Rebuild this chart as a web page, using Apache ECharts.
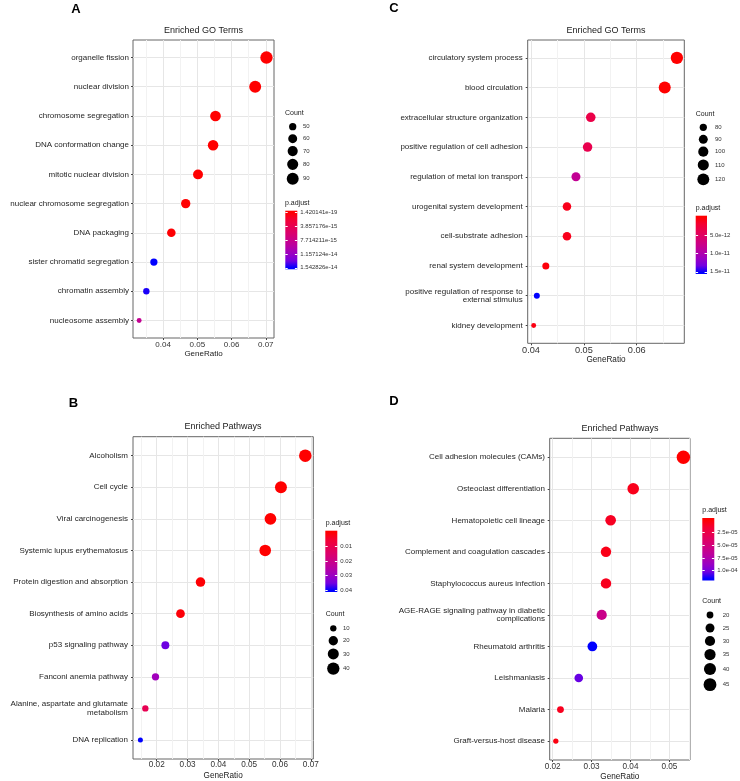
<!DOCTYPE html>
<html><head><meta charset="utf-8">
<script src="https://cdn.jsdelivr.net/npm/echarts@6/dist/echarts.min.js"></script>
<style>html,body{margin:0;padding:0;background:#fff}#c{width:740px;height:781px}</style>
</head><body><div id="c"></div><script>
// ---------- Panel A : Enriched GO Terms ----------
const catsA = ['organelle fission','nuclear division','chromosome segregation','DNA conformation change','mitotic nuclear division','nuclear chromosome segregation','DNA packaging','sister chromatid segregation','chromatin assembly','nucleosome assembly'];
const ratioA = [0.0702,0.0669,0.0553,0.0546,0.0502,0.0466,0.0424,0.0373,0.0351,0.0330];
const countA = [95,90,75,74,68,63,57,50,47,45];
const padjA = [1.420141e-19,4.5e-19,6.0e-18,8.0e-18,2.0e-17,5.0e-17,1.2e-16,1.542826e-14,1.50e-14,8.3e-15];
const xTicksA = [0.04,0.05,0.06,0.07];
const xTickLabelsA = ['0.04','0.05','0.06','0.07'];
const countBreaksA = [50,60,70,80,90];
const padjBreaksA = [1.420141e-19,3.857176e-15,7.714211e-15,1.157124e-14,1.542826e-14];
const padjLabelsA = ['1.420141e-19','3.857176e-15','7.714211e-15','1.157124e-14','1.542826e-14'];

// ---------- Panel B : Enriched Pathways ----------
const catsB = ['Alcoholism','Cell cycle','Viral carcinogenesis','Systemic lupus erythematosus','Protein digestion and absorption','Biosynthesis of amino acids','p53 signaling pathway','Fanconi anemia pathway','Alanine, aspartate and glutamate\nmetabolism','DNA replication'];
const ratioB = [0.0682,0.0603,0.0569,0.0552,0.0342,0.0277,0.0228,0.0196,0.0163,0.0147];
const countB = [42,37,35,34,21,17,14,12,10,9];
const padjB = [2e-7,1e-7,5e-6,3e-6,4e-4,8e-4,0.0355,0.0290,0.0105,0.0403];
const xTicksB = [0.02,0.03,0.04,0.05,0.06,0.07];
const xTickLabelsB = ['0.02','0.03','0.04','0.05','0.06','0.07'];
const countBreaksB = [10,20,30,40];
const padjBreaksB = [0.01,0.02,0.03,0.04];
const padjLabelsB = ['0.01','0.02','0.03','0.04'];

// ---------- Panel C : Enriched GO Terms ----------
const catsC = ['circulatory system process','blood circulation','extracellular structure organization','positive regulation of cell adhesion','regulation of metal ion transport','urogenital system development','cell-substrate adhesion','renal system development','positive regulation of response to\nexternal stimulus','kidney development'];
const ratioC = [0.0676,0.0653,0.0513,0.0507,0.0485,0.0468,0.0468,0.0428,0.0411,0.0405];
const countC = [125,121,95,94,90,87,87,79,76,75];
const padjC = [1e-15,8e-15,3.3e-12,3.7e-12,8.3e-12,1.0e-12,1.1e-12,4e-13,1.52e-11,7e-13];
const xTicksC = [0.04,0.05,0.06];
const xTickLabelsC = ['0.04','0.05','0.06'];
const countBreaksC = [80,90,100,110,120];
const padjBreaksC = [5e-12,1e-11,1.5e-11];
const padjLabelsC = ['5.0e-12','1.0e-11','1.5e-11'];

// ---------- Panel D : Enriched Pathways ----------
const catsD = ['Cell adhesion molecules (CAMs)','Osteoclast differentiation','Hematopoietic cell lineage','Complement and coagulation cascades','Staphylococcus aureus infection','AGE-RAGE signaling pathway in diabetic\ncomplications','Rheumatoid arthritis','Leishmaniasis','Malaria','Graft-versus-host disease'];
const ratioD = [0.0536,0.0407,0.0349,0.0337,0.0337,0.0326,0.0302,0.0267,0.0220,0.0208];
const countD = [49,37,32,31,31,30,28,24,20,19];
const padjD = [1e-9,8e-6,1.0e-5,7e-6,9e-6,5.8e-5,1.16e-4,1.03e-4,9e-6,5e-6];
const xTicksD = [0.02,0.03,0.04,0.05];
const xTickLabelsD = ['0.02','0.03','0.04','0.05'];
const countBreaksD = [20,25,30,35,40,45];
const padjBreaksD = [2.5e-5,5e-5,7.5e-5,1e-4];
const padjLabelsD = ['2.5e-05','5.0e-05','7.5e-05','1.0e-04'];

// ---------- styling / layout ----------
const FONT = 'Liberation Sans, Arial, Helvetica, sans-serif';
const RAMP = ['#FF0000','#F40031','#E80050','#DA006C','#C90089','#B500A5','#9A00C3','#7300E0','#0000FF'];

const panels = [
  {letter:'A', title:'Enriched GO Terms', cats:catsA, ratio:ratioA, count:countA, padj:padjA, xTicks:xTicksA, xTickLabels:xTickLabelsA, countBreaks:countBreaksA, padjBreaks:padjBreaksA, padjLabels:padjLabelsA,
   L:{grid:{left:133,top:40,width:141,height:298}, xMin:0.0312, xMax:0.0724, tickFont:8, tickMargin:3, catMargin:4, nameGap:12, nameFont:8,
      titleXY:[203.5,31], letterXY:[76,9], bar:{left:285.3,top:210.7,width:12,height:58.6}, padjTitle:[285,203.3], countTitle:[285,113], keys:{cx:292.7,cy0:126.7,lx:303}, k:0.52, keyBase:12}},
  {letter:'B', title:'Enriched Pathways', cats:catsB, ratio:ratioB, count:countB, padj:padjB, xTicks:xTicksB, xTickLabels:xTickLabelsB, countBreaks:countBreaksB, padjBreaks:padjBreaksB, padjLabels:padjLabelsB,
   L:{grid:{left:133,top:436.7,width:180.3,height:322.3}, xMin:0.0123, xMax:0.0708, tickFont:8.2, tickMargin:2, catMargin:5, nameGap:13, nameFont:8.2,
      titleXY:[223,427], letterXY:[73.5,403], bar:{left:325.3,top:530.7,width:12,height:61.3}, padjTitle:[325.7,522.7], countTitle:[325.7,614], keys:{cx:333.3,cy0:628.3,lx:343}, k:0.53, keyBase:12.5}},
  {letter:'C', title:'Enriched GO Terms', cats:catsC, ratio:ratioC, count:countC, padj:padjC, xTicks:xTicksC, xTickLabels:xTickLabelsC, countBreaks:countBreaksC, padjBreaks:padjBreaksC, padjLabels:padjLabelsC,
   L:{grid:{left:527.7,top:40,width:156.6,height:303.3}, xMin:0.03937, xMax:0.0690, tickFont:9.2, tickMargin:2.5, catMargin:5, nameGap:12.5, nameFont:8.2,
      titleXY:[606,31], letterXY:[394,8.5], bar:{left:695.7,top:215.7,width:11.3,height:58.3}, padjTitle:[695.7,208.3], countTitle:[695.7,114], keys:{cx:703.3,cy0:127.3,lx:715}, k:0.52, keyBase:12}},
  {letter:'D', title:'Enriched Pathways', cats:catsD, ratio:ratioD, count:countD, padj:padjD, xTicks:xTicksD, xTickLabels:xTickLabelsD, countBreaks:countBreaksD, padjBreaks:padjBreaksD, padjLabels:padjLabelsD,
   L:{grid:{left:549.7,top:438.3,width:140.3,height:321.7}, xMin:0.01923, xMax:0.0553, tickFont:8.2, tickMargin:3, catMargin:4.7, nameGap:13, nameFont:8.2,
      titleXY:[620,429], letterXY:[394,401.5], bar:{left:702.3,top:518,width:12,height:62.5}, padjTitle:[702.3,510], countTitle:[702.3,601.3], keys:{cx:710,cy0:615,lx:722.7}, k:0.565, keyBase:13}}
];

function nearest(arr, v){ let bi=0, bd=Infinity; arr.forEach((a,i)=>{const d=Math.abs(a-v); if(d<bd){bd=d;bi=i;}}); return bi; }
function sizeFn(k, vmin, vmax){
  return v => { const t=Math.max(0,Math.min(1,(v-vmin)/(vmax-vmin))); const s=3+5*Math.sqrt(t); return k*(2.845*s+0.94); };
}

const option = {animation:false, textStyle:{fontFamily:FONT}, grid:[], xAxis:[], yAxis:[], series:[], visualMap:[], graphic:[]};
const txt = (x,y,text,size,opts={}) => ({type:'text', x, y, silent:true, style:Object.assign({text, fontSize:size, fontFamily:FONT, fill:'#1a1a1a', align:'left', verticalAlign:'middle'}, opts)});

panels.forEach(p => {
  const L = p.L;
  const n = p.cats.length;
  const vmin = Math.min(...p.count), vmax = Math.max(...p.count);
  const sz = sizeFn(L.k, vmin, vmax);
  const pmin = Math.min(...p.padj), pmax = Math.max(...p.padj);

  // main plot
  const gi = option.grid.length;
  option.grid.push(Object.assign({show:true, borderColor:'#666666', borderWidth:1, backgroundColor:'transparent', containLabel:false, outerBoundsMode:'none'}, L.grid));
  option.xAxis.push({gridIndex:gi, type:'value', min:L.xMin, max:L.xMax, minInterval:0.01, maxInterval:0.01, position:'bottom',
    name:'GeneRatio', nameLocation:'middle', nameGap:L.nameGap, nameTextStyle:{fontSize:L.nameFont, color:'#1a1a1a', fontFamily:FONT},
    axisLine:{show:false, onZero:false},
    axisTick:{show:true, length:2, lineStyle:{color:'#444'}, customValues:p.xTicks},
    axisLabel:{customValues:p.xTicks, formatter:v=>p.xTickLabels[nearest(p.xTicks,v)], fontSize:L.tickFont, color:'#333', margin:L.tickMargin, fontFamily:FONT},
    splitLine:{show:true, lineStyle:{color:'#e6e6e6', width:1}},
    minorTick:{show:false, splitNumber:2},
    minorSplitLine:{show:true, lineStyle:{color:'#f2f2f2', width:1}}});
  const idx = p.cats.map((_,i)=>i);
  const yi = option.yAxis.length;
  option.yAxis.push({gridIndex:gi, type:'value', inverse:true, min:-0.6, max:n-1+0.6, position:'left',
    axisLine:{show:false, onZero:false},
    axisTick:{show:true, length:2, lineStyle:{color:'#444'}, customValues:idx},
    axisLabel:{customValues:idx, formatter:v=>p.cats[Math.round(v)], fontSize:8, color:'#1f1f1f', margin:L.catMargin, lineHeight:8.5, fontFamily:FONT},
    splitLine:{show:true, lineStyle:{color:'#e6e6e6', width:1}}});
  option.series.push({type:'scatter', xAxisIndex:gi, yAxisIndex:yi, z:5,
    data:p.cats.map((c,i)=>[p.ratio[i], i, p.count[i], p.padj[i]]),
    symbolSize:v=>sz(v[2]), itemStyle:{opacity:1}, emphasis:{disabled:true}});
  option.visualMap.push({type:'continuous', show:false, seriesIndex:option.series.length-1, dimension:3, min:pmin, max:pmax, inRange:{color:RAMP}});

  // colour bar
  const bi = option.grid.length;
  option.grid.push(Object.assign({show:true, borderWidth:0, containLabel:false, outerBoundsMode:'none',
    backgroundColor:{type:'linear', x:0, y:0, x2:0, y2:1, colorStops:RAMP.map((c,i)=>({offset:0.025+0.95*i/(RAMP.length-1), color:c}))}}, L.bar));
  option.xAxis.push({gridIndex:bi, type:'value', show:false});
  const span = pmax-pmin, lo = pmin-span/38, hi = pmax+span/38;
  const tickStyle = {show:true, inside:true, length:2.4, lineStyle:{color:'#fff', width:1}, customValues:p.padjBreaks};
  option.yAxis.push({gridIndex:bi, type:'value', position:'right', inverse:true, min:lo, max:hi,
    axisLine:{show:false, onZero:false}, axisTick:tickStyle,
    axisLabel:{customValues:p.padjBreaks, formatter:v=>p.padjLabels[nearest(p.padjBreaks,v)], fontSize:6, color:'#333', margin:3, fontFamily:FONT},
    splitLine:{show:false}});
  option.yAxis.push({gridIndex:bi, type:'value', position:'left', inverse:true, min:lo, max:hi,
    axisLine:{show:false, onZero:false}, axisTick:tickStyle, axisLabel:{show:false}, splitLine:{show:false}});

  // texts
  option.graphic.push(txt(L.titleXY[0], L.titleXY[1], p.title, 9, {align:'center'}));
  option.graphic.push(txt(L.letterXY[0], L.letterXY[1], p.letter, 13, {align:'center', fontWeight:'bold', fill:'#000'}));
  option.graphic.push(txt(L.padjTitle[0], L.padjTitle[1], 'p.adjust', 7));
  option.graphic.push(txt(L.countTitle[0], L.countTitle[1], 'Count', 7));

  // size legend keys
  let cy = L.keys.cy0, prevKh = null;
  p.countBreaks.forEach((b,i) => {
    const d = sz(b);
    const kh = Math.max(L.keyBase, 1.25*d);
    if (i>0) cy += (prevKh+kh)/2;
    prevKh = kh;
    option.graphic.push({type:'circle', silent:true, shape:{cx:L.keys.cx, cy:cy, r:d/2}, style:{fill:'#000'}});
    option.graphic.push(txt(L.keys.lx, cy, String(b), 6, {fill:'#333'}));
  });
});

const chart = echarts.init(document.getElementById('c'), null, {renderer:'canvas', width:740, height:781});
chart.setOption(option);
</script></body></html>
